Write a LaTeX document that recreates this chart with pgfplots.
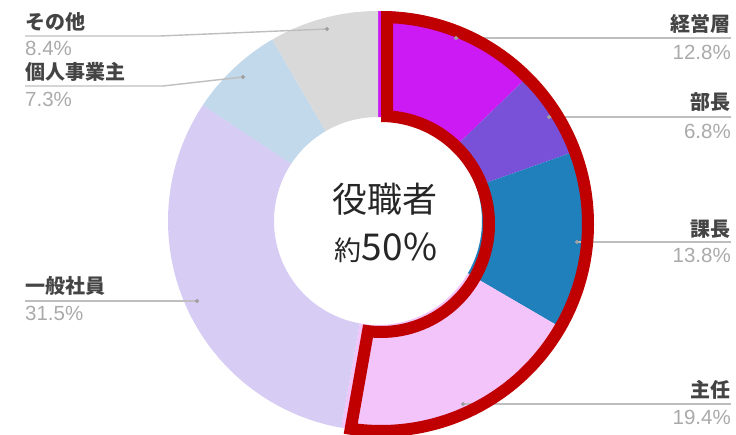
\documentclass[border=0pt]{standalone}
\usepackage{pgfplots}
\pgfplotsset{compat=1.18}
\usepackage{pgfplotstable}
\usepackage{fontspec}
\setmainfont{Liberation Sans}
\newfontfamily\jp{Noto Sans CJK JP}
\definecolor{cA}{RGB}{204,26,245}
\definecolor{cB}{RGB}{121,81,216}
\definecolor{cC}{RGB}{31,128,188}
\definecolor{cD}{RGB}{242,196,250}
\definecolor{cE}{RGB}{214,204,244}
\definecolor{cF}{RGB}{194,216,235}
\definecolor{cG}{RGB}{217,217,217}
\definecolor{hl}{RGB}{192,0,0}
\definecolor{lab}{RGB}{68,68,68}
\definecolor{pctc}{RGB}{170,170,170}
\definecolor{lead}{RGB}{190,190,190}
\definecolor{dotc}{RGB}{160,160,160}
\pgfplotstableread{
pct col
12.8 cA
6.8 cB
13.8 cC
19.4 cD
31.5 cE
7.3 cF
8.4 cG
}\piedata
\def\cx{378}\def\cy{214}\def\Ro{210}\def\Ri{104}
% highlight frame geometry
\def\hx{381}\def\hy{211}\def\Rh{213}\def\rh{102}\def\dd{12}
\newcommand\lbl[1]{\jp\bfseries\fontsize{20bp}{24bp}\selectfont #1}
\newcommand\pc[1]{\fontsize{20.5bp}{24bp}\selectfont #1}
\begin{document}
\begin{tikzpicture}
\useasboundingbox (0,0) rectangle (736bp,435bp);
\begin{axis}[hide axis, scale only axis, width=736bp, height=435bp,
  xmin=0, xmax=736, ymin=0, ymax=435, anchor=south west, at={(0,0)}]
% sectors
\pgfmathsetmacro\cum{0}
\pgfplotsforeachungrouped \i in {0,...,6}{%
  \pgfplotstablegetelem{\i}{pct}\of\piedata \let\segv\pgfplotsretval
  \pgfplotstablegetelem{\i}{col}\of\piedata \let\segc\pgfplotsretval
  \pgfmathsetmacro\aa{90-3.6*\cum}%
  \pgfmathsetmacro\cum{\cum+\segv}%
  \pgfmathsetmacro\ab{90-3.6*\cum}%
  \ifnum\i=3 \global\let\hlend\ab\fi
  \pgfmathsetmacro\xa{\cx+\Ro*cos(\aa)}%
  \pgfmathsetmacro\ya{\cy+\Ro*sin(\aa)}%
  \pgfmathsetmacro\xb{\cx+\Ri*cos(\ab)}%
  \pgfmathsetmacro\yb{\cy+\Ri*sin(\ab)}%
  \edef\temp{\noexpand\fill[\segc] (axis cs:\xa,\ya) arc[start angle=\aa,end angle=\ab,radius=\Ro bp] -- (axis cs:\xb,\yb) arc[start angle=\ab,end angle=\aa,radius=\Ri bp] -- cycle;}%
  \temp
}
% leader lines
\addplot[lead, line width=1.4bp, no markers] coordinates {(25,399) (160,399) (327,406)};
\addplot[lead, line width=1.4bp, no markers] coordinates {(25,349) (163,349) (243,358)};
\addplot[lead, line width=1.4bp, no markers] coordinates {(25,134) (197,134)};
\addplot[lead, line width=1.4bp, no markers] coordinates {(731,397) (456,397)};
\addplot[lead, line width=1.4bp, no markers] coordinates {(731,318) (549,318)};
\addplot[lead, line width=1.4bp, no markers] coordinates {(731,193) (577,193)};
\addplot[lead, line width=1.4bp, no markers] coordinates {(731,31) (463,31)};
\addplot[only marks, mark=*, mark size=1.8bp, color=dotc] coordinates {(327,406) (243,358) (197,134) (456,397) (549,318) (577,193) (463,31)};
% highlight outline
\pgfmathsetmacro\Rin{\Rh-\dd}
\pgfmathsetmacro\rin{\rh+\dd}
\pgfmathsetmacro\da{asin(\dd/\Rin)}
\pgfmathsetmacro\db{asin(\dd/\rin)}
\pgfmathsetmacro\oxa{\hx+\Rh*cos(90)}
\pgfmathsetmacro\oya{\hy+\Rh*sin(90)}
\pgfmathsetmacro\oxb{\hx+\rh*cos(\hlend)}
\pgfmathsetmacro\oyb{\hy+\rh*sin(\hlend)}
\pgfmathsetmacro\ia{90-\da}
\pgfmathsetmacro\ib{\hlend+\da}
\pgfmathsetmacro\ic{\hlend+\db}
\pgfmathsetmacro\id{90-\db}
\pgfmathsetmacro\ixa{\hx+\Rin*cos(\ia)}
\pgfmathsetmacro\iya{\hy+\Rin*sin(\ia)}
\pgfmathsetmacro\ixb{\hx+\rin*cos(\ic)}
\pgfmathsetmacro\iyb{\hy+\rin*sin(\ic)}
\edef\temp{\noexpand\fill[hl, even odd rule] (axis cs:\oxa,\oya) arc[start angle=90,end angle=\hlend,radius=\Rh bp] -- (axis cs:\oxb,\oyb) arc[start angle=\hlend,end angle=90,radius=\rh bp] -- cycle
 (axis cs:\ixa,\iya) arc[start angle=\ia,end angle=\ib,radius=\Rin bp] -- (axis cs:\ixb,\iyb) arc[start angle=\ic,end angle=\id,radius=\rin bp] -- cycle;}%
\temp
% center text
\node[text=black!85] at (axis cs:385,236) {\jp\fontsize{35bp}{40bp}\selectfont 役職者};
\node[text=black!85] at (axis cs:386,187) {\jp\fontsize{27bp}{30bp}\selectfont 約\fontsize{37bp}{40bp}\selectfont 50\%};
% labels
\node[anchor=west, inner sep=0, text=lab] at (axis cs:25,413) {\lbl{その他}};
\node[anchor=west, inner sep=0, text=pctc] at (axis cs:25,387) {\pc{8.4\%}};
\node[anchor=west, inner sep=0, text=lab] at (axis cs:25,363) {\lbl{個人事業主}};
\node[anchor=west, inner sep=0, text=pctc] at (axis cs:25,336) {\pc{7.3\%}};
\node[anchor=west, inner sep=0, text=lab] at (axis cs:25,149) {\lbl{一般社員}};
\node[anchor=west, inner sep=0, text=pctc] at (axis cs:25,122) {\pc{31.5\%}};
\node[anchor=east, inner sep=0, text=lab] at (axis cs:731,411) {\lbl{経営層}};
\node[anchor=east, inner sep=0, text=pctc] at (axis cs:731,383) {\pc{12.8\%}};
\node[anchor=east, inner sep=0, text=lab] at (axis cs:731,333) {\lbl{部長}};
\node[anchor=east, inner sep=0, text=pctc] at (axis cs:731,304) {\pc{6.8\%}};
\node[anchor=east, inner sep=0, text=lab] at (axis cs:731,206) {\lbl{課長}};
\node[anchor=east, inner sep=0, text=pctc] at (axis cs:731,180) {\pc{13.8\%}};
\node[anchor=east, inner sep=0, text=lab] at (axis cs:731,45) {\lbl{主任}};
\node[anchor=east, inner sep=0, text=pctc] at (axis cs:731,18) {\pc{19.4\%}};
\end{axis}
\end{tikzpicture}
\end{document}
